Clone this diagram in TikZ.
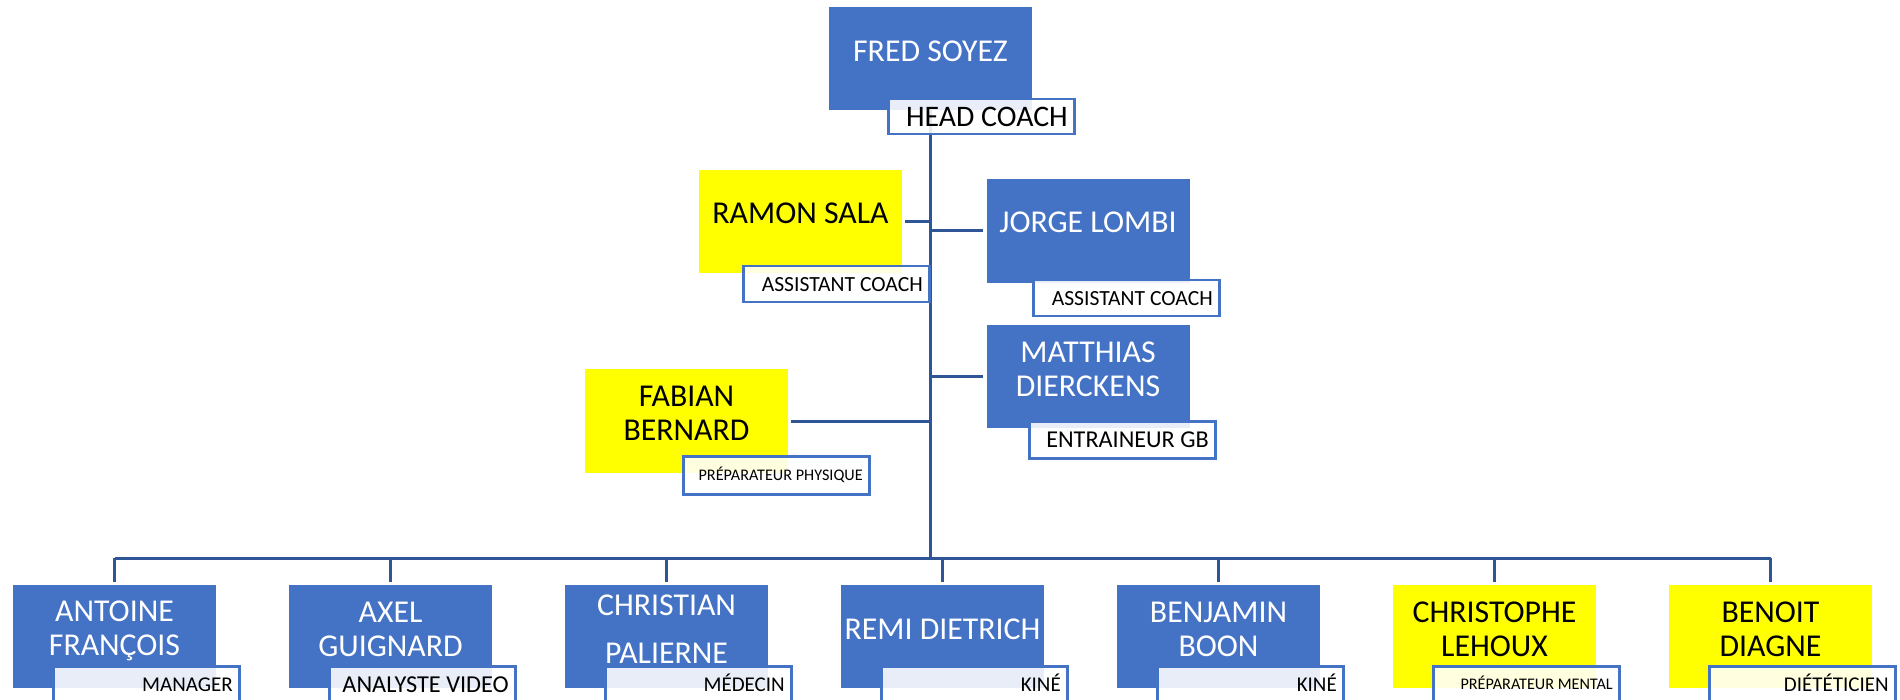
\documentclass[tikz,border=0pt]{standalone}
\usepackage{fontspec}
\setmainfont{Carlito}
\usetikzlibrary{calc}
\pgfdeclarelayer{background}
\pgfsetlayers{background,main}
\definecolor{boxblue}{HTML}{4472C4}
\definecolor{lineblue}{HTML}{2F5597}
\definecolor{boxyellow}{HTML}{FFFF00}
\tikzset{
  person/.style={rectangle, minimum width=203pt, minimum height=103pt, inner sep=0pt},
  bluebox/.style={person, fill=boxblue},
  yelbox/.style={person, fill=boxyellow},
  wname/.style={text=white, align=center, inner sep=0pt, font=\fontsize{31.8}{34}\selectfont},
  kname/.style={wname, text=black},
  role/.style={rectangle, draw=boxblue, line width=2.5pt, fill=white, fill opacity=0.88,
    text opacity=1, minimum height=#1, minimum width=186pt, anchor=north west,
    text width=173pt, align=flush right, inner xsep=6.5pt, inner ysep=0pt, text depth=0pt},
  conn/.style={draw=lineblue, line width=3pt},
}
\begin{document}
\begin{tikzpicture}[x=1pt,y=-1pt]
\useasboundingbox (0,0) rectangle (1900,700);
\clip (0,0) rectangle (1900,700);

% ---------- boxes ----------
\node[bluebox] (fred) at (930.5,58.5) {};
\node[yelbox] (ramon) at (800.5,221.5) {};
\node[bluebox, minimum height=104pt] (jorge) at (1088,231) {};
\node[bluebox] (matthias) at (1088,376.5) {};
\node[yelbox, minimum height=104pt] (fabian) at (686.5,421) {};
\node[bluebox] (antoine) at (114.5,636.5) {};
\node[bluebox] (axel) at (390.5,636.5) {};
\node[bluebox] (christian) at (666.5,636.5) {};
\node[bluebox] (remi) at (942.5,636.5) {};
\node[bluebox] (benjamin) at (1218.5,636.5) {};
\node[yelbox] (christophe) at (1494.5,636.5) {};
\node[yelbox] (benoit) at (1770.5,636.5) {};

% ---------- names ----------
\node[wname, anchor=base] (fred-n) at (930.5,62) {FRED SOYEZ};
\node[kname, anchor=base] (ramon-n) at (800.5,224) {RAMON SALA};
\node[wname, anchor=base] (jorge-n) at (1088,233) {JORGE LOMBI};
\node[wname] (matthias-n) at (1088,369.7) {MATTHIAS\\DIERCKENS};
\node[kname] (fabian-n) at (686.5,413.3) {FABIAN\\BERNARD};
\node[wname] (antoine-n) at (114.5,631) {ANTOINE\\FRANÇOIS};
\node[wname] (axel-n) at (390.5,629.3) {AXEL\\GUIGNARD};
\node[wname] (christian-n) at (666.5,628.8) {CHRISTIAN\\[14pt]PALIERNE};
\node[wname, anchor=base] (remi-n) at (942.5,639) {REMI DIETRICH};
\node[wname] (benjamin-n) at (1218.5,629.3) {BENJAMIN\\BOON};
\node[kname] (christophe-n) at (1494.5,629.3) {CHRISTOPHE\\LEHOUX};
\node[kname] (benoit-n) at (1770.5,629.3) {BENOIT\\DIAGNE};

% ---------- roles ----------
\node[role=35pt, font=\fontsize{29.8}{29.8}\selectfont, text height=19pt] (fred-r) at (887,98) {HEAD COACH};
\node[role=36pt, font=\fontsize{21.6}{21.6}\selectfont, text height=13.9pt] (ramon-r) at (742,265) {ASSISTANT COACH};
\node[role=36pt, font=\fontsize{21.6}{21.6}\selectfont, text height=13.9pt] (jorge-r) at (1032,279) {ASSISTANT COACH};
\node[role=37pt, font=\fontsize{24.2}{24.2}\selectfont, text height=15.6pt] (matthias-r) at (1028,420) {ENTRAINEUR GB};
\node[role=38pt, font=\fontsize{16.2}{16.2}\selectfont, text height=10.4pt] (fabian-r) at (682,455) {PRÉPARATEUR PHYSIQUE};
\node[role=37pt, font=\fontsize{21}{21}\selectfont, text height=13.5pt] (antoine-r) at (52,665) {MANAGER};
\node[role=37pt, font=\fontsize{24.3}{24.3}\selectfont, text height=15.6pt] (axel-r) at (328,665) {ANALYSTE VIDEO};
\node[role=37pt, font=\fontsize{21}{21}\selectfont, text height=13.5pt] (christian-r) at (604,665) {MÉDECIN};
\node[role=37pt, font=\fontsize{21}{21}\selectfont, text height=13.5pt] (remi-r) at (880,665) {KINÉ};
\node[role=37pt, font=\fontsize{21}{21}\selectfont, text height=13.5pt] (benjamin-r) at (1156,665) {KINÉ};
\node[role=37pt, font=\fontsize{16.2}{16.2}\selectfont, text height=10.4pt] (christophe-r) at (1432,665) {PRÉPARATEUR MENTAL};
\node[role=37pt, font=\fontsize{21}{21}\selectfont, text height=13.5pt] (benoit-r) at (1708,665) {DIÉTÉTICIEN};

% ---------- connectors ----------
\coordinate (bus) at (930.5,558);
\begin{pgfonlayer}{background}
  \draw[conn] (fred.south) -- (fred.south |- bus);
  \draw[conn] ([xshift=3pt]ramon.east) -- (ramon.east -| fred.south);
  \draw[conn] ([xshift=-3pt]jorge.west) -- (jorge.west -| fred.south);
  \draw[conn] ([xshift=-3pt]matthias.west) -- (matthias.west -| fred.south);
  \draw[conn] ([xshift=3pt]fabian.east) -- (fabian.east -| fred.south);
  \draw[conn] (antoine.north |- bus) -- (benoit.north |- bus);
  \foreach \p in {antoine,axel,christian,remi,benjamin,christophe,benoit}
    \draw[conn] (\p.north |- bus) -- ([yshift=3pt]\p.north);
\end{pgfonlayer}
\end{tikzpicture}
\end{document}
